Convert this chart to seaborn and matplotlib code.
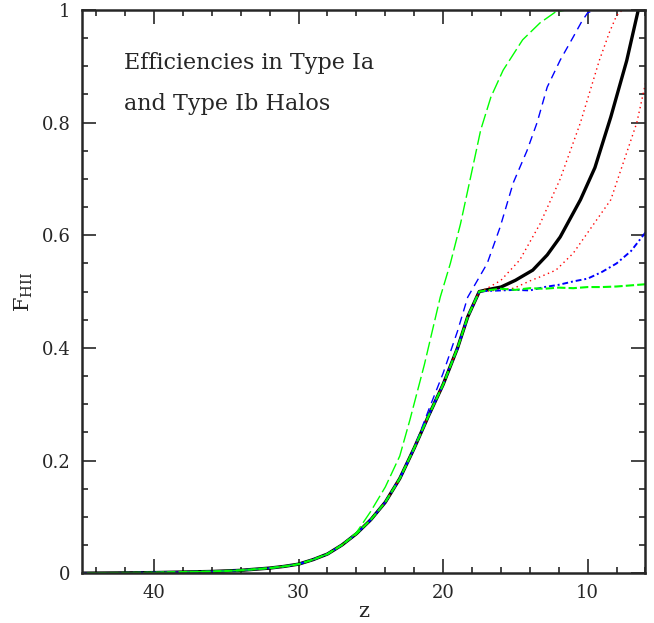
import numpy as np
import pandas as pd
import matplotlib
matplotlib.use("Agg")
import matplotlib.pyplot as plt
import seaborn as sns
from matplotlib.ticker import MultipleLocator

# shared early part of every curve (z from 45 down to 17.5)
z_base = [45, 42, 40, 38, 36, 34, 32, 31, 30, 29, 28, 27, 26, 25, 24, 23, 22, 21, 20, 19, 18.3, 17.5]
f_base = [0.0, 0.0005, 0.001, 0.002, 0.003, 0.005, 0.009, 0.012, 0.016, 0.024, 0.034, 0.050,
          0.070, 0.095, 0.126, 0.168, 0.222, 0.28, 0.335, 0.40, 0.455, 0.50]

# late branches (z < 17.5)
z_black = [17, 16, 15, 13.8, 12.8, 11.9, 10.5, 9.5, 8.4, 7.3, 6.5, 6]
f_black = [0.503, 0.508, 0.52, 0.538, 0.565, 0.597, 0.663, 0.72, 0.81, 0.91, 1.0, 1.0]
z_red_hi = [17, 16, 14.7, 13.3, 11.9, 10.5, 9.2, 8.5, 8, 7.6, 6]
f_red_hi = [0.505, 0.52, 0.556, 0.62, 0.70, 0.80, 0.91, 0.96, 0.99, 1.0, 1.0]
z_red_lo = [17, 16, 15.1, 13.9, 13.3, 12.2, 11, 10.4, 8.4, 6.6, 6]
f_red_lo = [0.501, 0.503, 0.506, 0.52, 0.526, 0.538, 0.568, 0.59, 0.663, 0.80, 0.87]
z_blue_lo = [17, 16, 15, 14, 13, 12, 11, 10, 9, 8, 7, 6]
f_blue_lo = [0.501, 0.502, 0.503, 0.502, 0.508, 0.512, 0.518, 0.523, 0.535, 0.55, 0.572, 0.605]
z_green_lo = [17, 16, 15, 14, 13, 12, 11, 10, 9, 8, 7, 6]
f_green_lo = [0.502, 0.505, 0.503, 0.506, 0.505, 0.507, 0.506, 0.508, 0.508, 0.509, 0.511, 0.513]

# curves that leave the base earlier
z_blue_hi = [21, 20, 19, 18.3, 16.95, 16.05, 15.15, 14.2, 13.5, 12.8, 11.9, 11, 10.4, 10, 9.5, 6]
f_blue_hi = [0.29, 0.355, 0.43, 0.49, 0.55, 0.615, 0.693, 0.75, 0.80, 0.863, 0.911, 0.952,
             0.98, 0.995, 1.0, 1.0]
z_green_hi = [26, 25, 24, 23, 22.3, 21.3, 20.2, 19.5, 18.8, 18.1, 17.4, 16.7, 15.85, 14.5,
              13.3, 12.25, 11.5, 6]
f_green_hi = [0.072, 0.11, 0.153, 0.208, 0.272, 0.37, 0.49, 0.55, 0.62, 0.703, 0.787, 0.845,
              0.893, 0.947, 0.977, 0.996, 1.0, 1.0]

sns.set_style("ticks")
plt.rcParams["font.family"] = ["DejaVu Serif"]
plt.rcParams["mathtext.fontset"] = "dejavuserif"

fig = plt.figure(figsize=(6.54, 6.23), dpi=100)
ax = fig.add_axes([0.125, 0.080, 0.862, 0.904])


def join(z_end, f_end):
    # base up to the branch start, then the branch
    zs = [z for z in z_base if z > z_end[0]]
    fs = f_base[:len(zs)]
    return zs + z_end, fs + f_end


curves = [
    (join(z_black, f_black), "black", "-", 2.4),
    (join(z_red_lo, f_red_lo), "red", (0, (1, 2.5)), 1.0),
    (join(z_red_hi, f_red_hi), "red", (0, (1, 2.5)), 1.0),
    (join(z_blue_lo, f_blue_lo), "blue", (0, (3, 1.5, 1, 1.5)), 1.4),
    (join(z_blue_hi, f_blue_hi), "blue", (0, (6, 4)), 1.0),
    (join(z_green_lo, f_green_lo), "lime", (0, (4, 1.5)), 1.5),
    (join(z_green_hi, f_green_hi), "lime", (0, (10, 3)), 1.0),
]
for (z, f), c, ls, lw in curves:
    df = pd.DataFrame({"z": z, "F": f})
    sns.lineplot(data=df, x="z", y="F", color=c, linestyle=ls, linewidth=lw, ax=ax)

ax.set_xlim(45, 6)
ax.set_ylim(0, 1)
ax.xaxis.set_major_locator(MultipleLocator(10))
ax.xaxis.set_minor_locator(MultipleLocator(2))
ax.yaxis.set_major_locator(MultipleLocator(0.2))
ax.yaxis.set_minor_locator(MultipleLocator(0.05))
ax.set_yticks([0, 0.2, 0.4, 0.6, 0.8, 1.0])
ax.set_yticklabels(["0", "0.2", "0.4", "0.6", "0.8", "1"])
ax.tick_params(which="both", direction="in", top=True, right=True, width=1.2, labelsize=13)
ax.tick_params(which="major", length=10, pad=8)
ax.tick_params(which="minor", length=4.5)
for s in ax.spines.values():
    s.set_linewidth(1.8)

ax.set_xlabel("z", fontsize=15, labelpad=0)
ax.set_ylabel(r"F$_{\rm HII}$", fontsize=15, labelpad=5)

ax.text(0.075, 0.896, "Efficiencies in Type Ia", transform=ax.transAxes, fontsize=16)
ax.text(0.075, 0.823, "and Type Ib Halos", transform=ax.transAxes, fontsize=16)

fig.savefig("out.png", dpi=100)
